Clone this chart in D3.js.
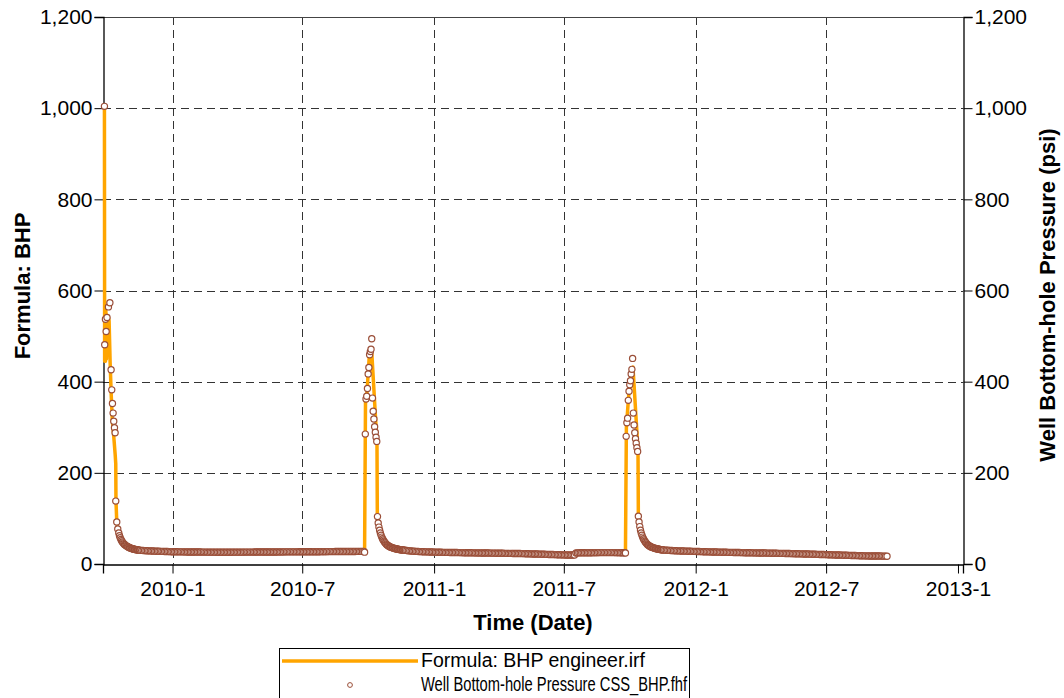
<!DOCTYPE html>
<html>
<head>
<meta charset="utf-8">
<script src="https://cdn.jsdelivr.net/npm/d3@7"></script>
<style>
  html, body { margin: 0; padding: 0; background: #fff; }
  svg { display: block; font-family: "Liberation Sans", Arial, sans-serif; }
</style>
</head>
<body>
<svg id="chart" width="1064" height="698"></svg>
<script>
// ---------------- DATA ----------------
const dataStart = "2009-09-28";           // day 0 of all day offsets below
const xDomain = ["2009-09-26", "2013-01-08"];
const xTickDates = ["2010-01-01", "2010-07-01", "2011-01-01", "2011-07-01", "2012-01-01", "2012-07-01", "2013-01-01"];
const xGridDates = ["2010-01-01", "2010-07-01", "2011-01-01", "2011-07-01", "2012-01-01", "2012-07-01"];
const yTicks = [0, 200, 400, 600, 800, 1000, 1200];

// Well Bottom-hole Pressure (points)
const spike1Days = [0, 0.4, 1.4, 2.4, 3.6, 5.6, 7.6, 9.3, 10.2, 11.2, 12.1, 13, 14, 14.9, 15.8, 17.2, 18.6];
const spike1Values = [1004, 481, 537, 510, 541, 564, 573, 426, 382, 352, 331, 313, 299, 288, 138, 92, 77];

const decay1Start = 20, decay1Step = 1;
const decay1Values = [68, 62, 57.5, 54, 51, 48.5, 46.4, 44.6, 43.0, 41.6, 40.4,
  39.3, 38.3, 37.4, 36.6, 35.9, 35.2, 34.6, 34.0, 33.5, 33.0,
  32.6, 32.2, 31.8, 31.5, 31.2, 30.9, 30.6, 30.4, 30.2, 30.0];

const flat1Start = 52, flat1Step = 2;
const flat1Values = [
  29.8, 29.6, 29.4, 29.2, 29.0, 28.8, 28.7, 28.5, 28.4, 28.2, 28.1, 28.0, 27.9, 27.8, 27.7, 27.6, 27.5, 27.4, 27.3, 27.2,
  27.1, 27.0, 27.0, 26.9, 26.8, 26.8, 26.7, 26.7, 26.6, 26.6, 26.5, 26.5, 26.4, 26.4, 26.4, 26.3, 26.3, 26.3, 26.2, 26.2,
  26.2, 26.2, 26.1, 26.1, 26.1, 26.1, 26.0, 26.0, 26.0, 26.0, 26.0, 26.0, 25.9, 25.9, 25.9, 25.9, 25.9, 25.9, 25.9, 25.9,
  25.9, 25.9, 25.9, 25.9, 26.0, 26.0, 26.0, 26.0, 26.0, 26.0, 26.0, 26.0, 26.1, 26.1, 26.1, 26.1, 26.1, 26.1, 26.1, 26.2,
  26.2, 26.2, 26.2, 26.2, 26.2, 26.3, 26.3, 26.3, 26.3, 26.3, 26.4, 26.4, 26.4, 26.4, 26.4, 26.5, 26.5, 26.5, 26.5, 26.5,
  26.6, 26.6, 26.6, 26.6, 26.6, 26.7, 26.7, 26.7, 26.7, 26.7, 26.8, 26.8, 26.8, 26.8, 26.8, 26.9, 26.9, 26.9, 26.9, 26.9,
  27.0, 27.0, 27.0, 27.0, 27.0, 27.1, 27.1, 27.1, 27.1, 27.1, 27.2, 27.2, 27.2, 27.2, 27.2, 27.3, 27.3, 27.3, 27.3, 27.3,
  27.4, 27.4, 27.4, 27.4, 27.4, 27.5, 27.5, 27.5, 27.5, 27.5, 27.6, 27.6, 27.6, 27.6, 27.6, 27.7];

const spike2Start = 363, spike2Step = 1;
const spike2Values = [26, 285, 362, 368, 385, 417, 431, 459, 466, 471, 494, 364, 335, 318, 301, 289, 278, 269,
  104, 90, 81, 74, 68, 63, 59, 55.5, 52.5, 50, 47.8, 45.8, 44.0, 42.5, 41.2, 40.0, 39.0, 38.1, 37.3, 36.6,
  36.0, 35.4, 34.9, 34.4, 34.0, 33.6, 33.2, 32.8, 32.5, 32.2, 31.9, 31.6, 31.3, 31.1, 30.9, 30.7, 30.5, 30.3, 30.1, 29.9];

const flat2Start = 422, flat2Step = 2;
const flat2Values = [
  29.5, 29.1, 28.8, 28.5, 28.2, 28.0, 27.8, 27.6, 27.4, 27.2, 27.1, 26.9, 26.8, 26.7, 26.6, 26.5, 26.4, 26.3, 26.2, 26.1,
  26.0, 25.9, 25.8, 25.8, 25.7, 25.6, 25.6, 25.5, 25.4, 25.4, 25.3, 25.3, 25.2, 25.2, 25.1, 25.1, 25.0, 25.0, 24.9, 24.9,
  24.8, 24.8, 24.7, 24.7, 24.6, 24.6, 24.5, 24.5, 24.4, 24.4, 24.3, 24.3, 24.2, 24.2, 24.1, 24.1, 24.0, 24.0, 23.9, 23.9,
  23.8, 23.8, 23.7, 23.7, 23.6, 23.6, 23.5, 23.5, 23.4, 23.4, 23.3, 23.3, 23.2, 23.2, 23.1, 23.1, 23.0, 23.0, 22.9, 22.9,
  22.8, 22.8, 22.7, 22.6, 22.5, 22.4, 22.3, 22.2, 22.1, 22.0, 21.9, 21.8, 21.7, 21.6, 21.5, 21.4, 21.3, 21.2, 21.1, 21.0,
  20.9, 20.8, 20.7, 20.6, 20.5, 20.4, 20.3, 20.2, 20.1, 20.0, 20.0, 19.9, 19.9, 19.8, 19.8, 19.7, 19.7, 19.6, 24.2, 24.4,
  24.5, 24.6, 24.6, 24.7, 24.7, 24.7, 24.8, 24.8, 24.8, 24.8, 24.9, 24.9, 24.9, 24.9, 25.0, 25.0, 25.0, 25.0, 25.0, 25.0,
  25.0, 25.0, 25.0, 25.0, 25.0, 25.0, 24.9, 24.9, 24.9, 24.8, 24.8, 24.7, 24.7];

const spike3Start = 727, spike3Step = 1;
const spike3Values = [24, 280, 310, 320, 359, 379, 393, 402, 417, 427, 451, 331, 305, 288, 275, 265, 255, 247,
  105, 92, 82, 74, 68, 63, 59, 55.5, 52.5, 50, 47.8, 45.8, 44.0, 42.5, 41.2, 40.0, 39.0, 38.1, 37.3, 36.6,
  36.0, 35.4, 34.9, 34.4, 34.0, 33.6, 33.2, 32.8, 32.5, 32.2, 31.9, 31.6, 31.3, 31.1, 30.9, 30.7];

const flat3Start = 782, flat3Step = 2;
const flat3Values = [
  30.5, 30.3, 30.1, 29.9, 29.7, 29.5, 29.3, 29.2, 29.0, 28.9, 28.7, 28.6, 28.5, 28.4, 28.3, 28.2, 28.1, 28.0, 27.9, 27.8,
  27.7, 27.6, 27.5, 27.4, 27.3, 27.2, 27.1, 27.0, 26.9, 26.8, 26.7, 26.6, 26.5, 26.4, 26.4, 26.3, 26.2, 26.1, 26.0, 26.0,
  25.9, 25.8, 25.7, 25.7, 25.6, 25.5, 25.5, 25.4, 25.3, 25.3, 25.2, 25.1, 25.1, 25.0, 24.9, 24.9, 24.8, 24.8, 24.7, 24.6,
  24.6, 24.5, 24.5, 24.4, 24.3, 24.3, 24.2, 24.2, 24.1, 24.0, 24.0, 23.9, 23.9, 23.8, 23.7, 23.7, 23.6, 23.6, 23.5, 23.4,
  23.4, 23.3, 23.2, 23.2, 23.1, 23.0, 23.0, 22.9, 22.8, 22.7, 22.7, 22.6, 22.5, 22.4, 22.3, 22.3, 22.2, 22.1, 22.0, 21.9,
  21.8, 21.7, 21.6, 21.5, 21.4, 21.3, 21.2, 21.1, 21.0, 20.9, 20.8, 20.7, 20.6, 20.5, 20.4, 20.3, 20.2, 20.1, 20.0, 19.9,
  19.8, 19.7, 19.6, 19.5, 19.4, 19.3, 19.2, 19.1, 19.0, 18.9, 18.8, 18.7, 18.6, 18.5, 18.4, 18.3, 18.2, 18.1, 18.0, 17.9,
  17.9, 17.8, 17.8, 17.7, 17.7, 17.6, 17.6, 17.5, 17.5, 17.4, 17.4, 17.3, 17.3, 17.2, 17.2, 17.1];

// Formula: BHP (line)
const lineDays = [0, 0.3, 0.8, 1.5, 2, 2.8, 3.3, 4, 5, 6.5, 8, 9.5, 11, 13, 15, 15.8, 16.1, 17.2, 18.6, 20, 22, 25, 30, 35, 40, 50,
  60, 80, 100, 150, 200, 250, 300, 350, 363,
  364.3, 366, 370, 373, 380.3, 380.8, 382, 384, 387, 391, 396, 401, 410, 420, 440, 480, 540, 600, 640, 656, 658, 700, 727,
  728.3, 732, 736, 737.5, 744.5, 745, 747, 750, 755, 760, 768, 780, 820, 880, 950, 1000, 1050, 1092];
const lineValues = [1000, 445, 560, 445, 555, 450, 545, 540, 545, 534, 440, 370, 315, 280, 240, 220, 140, 92, 77, 68, 57.5, 48.5, 40.4, 35.9, 33.0, 30.0,
  29.0, 27.5, 26.8, 26.0, 26.0, 26.5, 27.0, 27.5, 27.7,
  360, 368, 467, 465, 265, 104, 90, 74, 59, 47.8, 40.0, 36.0, 32.0, 29.9, 26.8, 25.2, 23.9, 22.3, 20.0, 19.6, 24.2, 25.0, 24.5,
  300, 380, 428, 432, 250, 105, 82, 63, 50, 40, 34.4, 30.7, 27.8, 25.0, 23.0, 21.0, 18.5, 17.1];

const yLeftTitle = "Formula: BHP";
const yRightTitle = "Well Bottom-hole Pressure (psi)";
const xTitle = "Time (Date)";
const legendLabels = ["Formula: BHP engineer.irf", "Well Bottom-hole Pressure CSS_BHP.fhf"];

// ---------------- BUILD ----------------
const parse = d3.utcParse("%Y-%m-%d");
const t0 = parse(dataStart);
const dayToDate = d => new Date(t0.getTime() + d * 86400000);

function seg(start, step, values) {
  return values.map((v, i) => ({ date: dayToDate(start + i * step), value: v }));
}
const points = [].concat(
  spike1Days.map((d, i) => ({ date: dayToDate(d), value: spike1Values[i] })),
  seg(decay1Start, decay1Step, decay1Values),
  seg(flat1Start, flat1Step, flat1Values),
  seg(spike2Start, spike2Step, spike2Values),
  seg(flat2Start, flat2Step, flat2Values),
  seg(spike3Start, spike3Step, spike3Values),
  seg(flat3Start, flat3Step, flat3Values)
);
const lineData = lineDays.map((d, i) => ({ date: dayToDate(d), value: lineValues[i] }));

const plot = { left: 103, right: 963, top: 17, bottom: 564 };
const svg = d3.select("#chart");
const FONT = "'Liberation Sans', Arial, sans-serif";

const x = d3.scaleUtc().domain(xDomain.map(parse)).range([plot.left, plot.right]);
const y = d3.scaleLinear().domain([0, 1200]).range([plot.bottom, plot.top]);
const fmt = d3.format(",");
const dateFmt = d3.utcFormat("%Y-%-m");

// grid
const grid = svg.append("g").attr("stroke", "#333").attr("stroke-width", 1).attr("stroke-dasharray", "8,5");
grid.selectAll("line.h").data(yTicks.filter(v => v > 0 && v < 1200)).join("line")
  .attr("x1", plot.left).attr("x2", plot.right)
  .attr("y1", d => Math.round(y(d)) + 0.5).attr("y2", d => Math.round(y(d)) + 0.5);
grid.selectAll("line.v").data(xGridDates.map(parse)).join("line")
  .attr("y1", plot.top).attr("y2", plot.bottom)
  .attr("x1", d => Math.round(x(d)) + 0.5).attr("x2", d => Math.round(x(d)) + 0.5);

// frame top
svg.append("line").attr("x1", plot.left).attr("x2", plot.right)
  .attr("y1", plot.top + 0.5).attr("y2", plot.top + 0.5).attr("stroke", "#444");

// axes
const tickFont = 21;
const gL = svg.append("g").attr("transform", `translate(${plot.left + 0.5},0)`)
  .call(d3.axisLeft(y).tickValues(yTicks).tickFormat(fmt).tickSize(9).tickPadding(2));
const gR = svg.append("g").attr("transform", `translate(${plot.right + 0.5},0)`)
  .call(d3.axisRight(y).tickValues(yTicks).tickFormat(fmt).tickSize(9).tickPadding(2));
const gB = svg.append("g").attr("transform", `translate(0,${plot.bottom + 0.5})`)
  .call(d3.axisBottom(x).tickValues(xTickDates.map(parse)).tickFormat(dateFmt).tickSize(9).tickPadding(8));
[gL, gR, gB].forEach(g => {
  g.select(".domain").attr("stroke", "#000").attr("stroke-width", 1.3);
  g.selectAll(".tick line").attr("stroke", "#000");
  g.selectAll(".tick text").attr("font-size", tickFont).attr("fill", "#000").attr("font-family", FONT);
});

// line
svg.append("path").datum(lineData)
  .attr("fill", "none").attr("stroke", "#FFA500").attr("stroke-width", 3.5)
  .attr("stroke-linejoin", "round")
  .attr("d", d3.line().x(d => x(d.date)).y(d => y(d.value)));

// points
svg.append("g").selectAll("circle").data(points).join("circle")
  .attr("cx", d => x(d.date)).attr("cy", d => y(d.value)).attr("r", 3.1)
  .attr("fill", "#fff").attr("stroke", "#9A4E38").attr("stroke-width", 1.2);

// titles
svg.append("text").attr("transform", `translate(30,286) rotate(-90)`)
  .attr("text-anchor", "middle").attr("font-weight", "bold").attr("font-size", 22).text(yLeftTitle);
svg.append("text").attr("transform", `translate(1055,295) rotate(-90)`)
  .attr("text-anchor", "middle").attr("font-weight", "bold").attr("font-size", 22).text(yRightTitle);
svg.append("text").attr("x", 533).attr("y", 630)
  .attr("text-anchor", "middle").attr("font-weight", "bold").attr("font-size", 22).text(xTitle);

// legend
const lg = svg.append("g");
lg.append("rect").attr("x", 279.5).attr("y", 648.5).attr("width", 410).attr("height", 70)
  .attr("fill", "#fff").attr("stroke", "#000");
lg.append("line").attr("x1", 282).attr("x2", 418).attr("y1", 661).attr("y2", 661)
  .attr("stroke", "#FFA500").attr("stroke-width", 3.5);
lg.append("circle").attr("cx", 350).attr("cy", 685).attr("r", 2.4)
  .attr("fill", "#fff").attr("stroke", "#9A4E38").attr("stroke-width", 1);
lg.append("text").attr("x", 421).attr("y", 667).attr("font-size", 19.5).text(legendLabels[0]);
lg.append("text").attr("x", 421).attr("y", 691).attr("font-size", 19.5)
  .attr("textLength", 266).attr("lengthAdjust", "spacingAndGlyphs").text(legendLabels[1]);
</script>
</body>
</html>
